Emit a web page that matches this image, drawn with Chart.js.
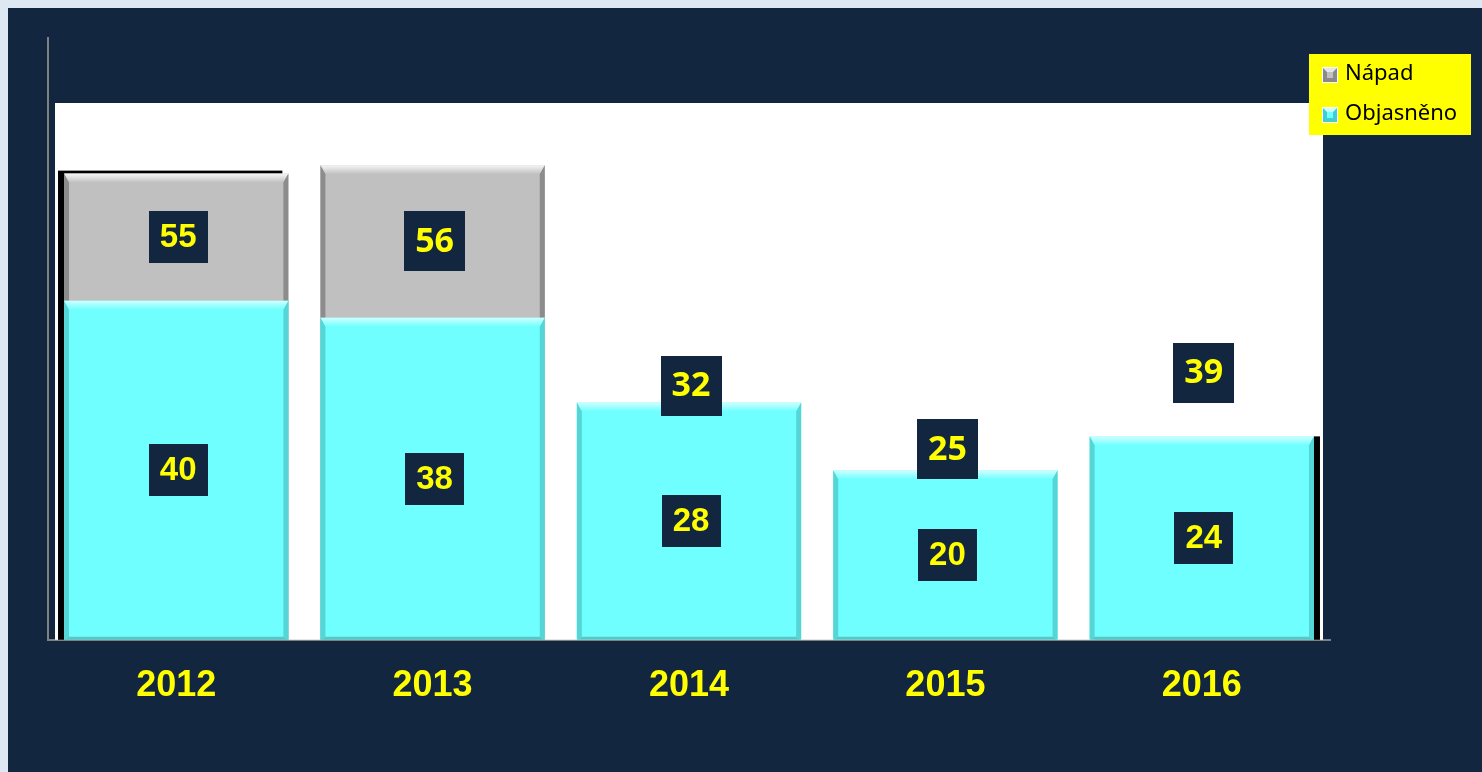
<!DOCTYPE html>
<html>
<head>
<meta charset="utf-8">
<script src="https://cdn.jsdelivr.net/npm/chart.js@4.4.1/dist/chart.umd.min.js"></script>
<style>
  html, body { margin: 0; padding: 0; }
  body { width: 1482px; height: 772px; overflow: hidden; background: #dde8f2; }
  #frame { position: absolute; left: 8px; top: 8px; width: 1474px; height: 764px; background: #12263f; }
  canvas { display: block; }
</style>
</head>
<body>
<div id="frame"><canvas id="chart" width="1474" height="764"></canvas></div>
<script>
const years = ["2012", "2013", "2014", "2015", "2016"]
const napad = [55, 56, 32, 25, 39]
const objasneno = [40, 38, 28, 20, 24]
const seriesNames = ["Nápad", "Objasněno"]

const navy = "#12263f"
const cyan = "#6fffff"
const grey = "#c0c0c0"
// Nápad bars after 2013 are not visible in the original (white)
const napadColors = [grey, grey, "#ffffff", "#ffffff", "#ffffff"]

const arialBold = "bold 33px 'Liberation Sans', Arial, sans-serif"
const notoBold = "bold 34px 'Noto Sans', 'Open Sans', sans-serif"

function poly(ctx, pts, fill) {
  ctx.beginPath()
  ctx.moveTo(pts[0], pts[1])
  for (let k = 2; k < pts.length; k += 2) ctx.lineTo(pts[k], pts[k + 1])
  ctx.closePath()
  ctx.fillStyle = fill
  ctx.fill()
}

// white plot background, black "shadow" strips on outer bars
const backdropPlugin = {
  id: "backdrop",
  beforeDatasetsDraw(chart) {
    const { ctx, chartArea } = chart
    ctx.save()
    ctx.fillStyle = "#ffffff"
    ctx.fillRect(chartArea.left + 7, chartArea.top + 65, chartArea.right - chartArea.left - 14, chartArea.bottom - chartArea.top - 65)
    const first = chart.getDatasetMeta(0).data[0].getProps(["x", "y", "base", "width"], true)
    ctx.fillStyle = "#000000"
    ctx.fillRect(first.x - first.width / 2 - 6, first.y - 3, first.width, first.base - first.y + 3)
    const obj = chart.getDatasetMeta(1).data
    const last = obj[obj.length - 1].getProps(["x", "y", "base", "width"], true)
    ctx.fillRect(last.x - last.width / 2 + 6, last.y, last.width, last.base - last.y)
    ctx.restore()
  }
}

// bevel edges like the Excel 3D bar effect
const bevelPlugin = {
  id: "bevel",
  afterDatasetDraw(chart, args) {
    const ctx = chart.ctx
    const ds = chart.data.datasets[args.index]
    ctx.save()
    args.meta.data.forEach((bar, i) => {
      const col = Array.isArray(ds.backgroundColor) ? ds.backgroundColor[i] : ds.backgroundColor
      if (col === "#ffffff") return
      const { x, y, base, width } = bar.getProps(["x", "y", "base", "width"], true)
      const l = x - width / 2, r = x + width / 2, t = y, b = base
      const s = 5, tb = 9
      const isCyan = col === cyan
      const light = isCyan ? "#d2ffff" : "#f6f6f6"
      const side = isCyan ? "#55d5d5" : "#8c8c8c"
      const bottom = isCyan ? "#5cc4c4" : "#9a9a9a"
      const g = ctx.createLinearGradient(0, t, 0, t + tb)
      g.addColorStop(0, light)
      g.addColorStop(1, col)
      poly(ctx, [l, t, r, t, r - s, t + tb, l + s, t + tb], g)
      poly(ctx, [l, t, l + s, t + tb, l + s, b - 3, l, b], side)
      poly(ctx, [r, t, r - s, t + tb, r - s, b - 3, r, b], side)
      poly(ctx, [l, b, l + s, b - 3, r - s, b - 3, r, b], bottom)
    })
    ctx.restore()
  }
}

function labelBox(ctx, text, cx, cy, font, h) {
  ctx.font = font
  const w = ctx.measureText(text).width + 22
  ctx.fillStyle = navy
  ctx.fillRect(Math.round(cx - w / 2), Math.round(cy - h / 2), Math.round(w), h)
  ctx.fillStyle = "#ffff00"
  ctx.textAlign = "center"
  ctx.textBaseline = "middle"
  ctx.fillText(text, cx, cy + 1)
}

const labelPlugin = {
  id: "boxLabels",
  afterDatasetsDraw(chart) {
    const ctx = chart.ctx
    const nap = chart.getDatasetMeta(0).data
    const obj = chart.getDatasetMeta(1).data
    ctx.save()
    years.forEach((yr, i) => {
      const o = obj[i].getProps(["x", "y", "base"], true)
      const n = nap[i].getProps(["x", "y"], true)
      labelBox(ctx, String(objasneno[i]), o.x + 2, (o.y + o.base) / 2, arialBold, 52)
      if (i === 0) labelBox(ctx, String(napad[i]), n.x + 2, (n.y + o.y) / 2, arialBold, 52)
      else labelBox(ctx, String(napad[i]), n.x + 2, (n.y + o.y) / 2, notoBold, 60)
    })
    ctx.restore()
  }
}

const legendPlugin = {
  id: "boxLegend",
  afterDraw(chart) {
    const ctx = chart.ctx
    const tops = ["#e6e6e6", "#c8ffff"]
    const shades = ["#8a8a8a", "#3fcfcf"]
    const cores = [grey, cyan]
    const x0 = 1301, y0 = 46
    ctx.save()
    ctx.fillStyle = "#ffff00"
    ctx.fillRect(x0, y0, 162, 81)
    seriesNames.forEach((name, k) => {
      const my = y0 + 13 + k * 40
      ctx.fillStyle = "#ffffff"
      ctx.fillRect(x0 + 13, my, 16, 16)
      ctx.fillStyle = shades[k]
      ctx.fillRect(x0 + 14, my + 1, 14, 14)
      poly(ctx, [x0 + 14, my + 1, x0 + 28, my + 1, x0 + 24, my + 5, x0 + 18, my + 5], tops[k])
      ctx.fillStyle = cores[k]
      ctx.fillRect(x0 + 18, my + 5, 6, 6)
      ctx.fillStyle = "#000000"
      ctx.font = "22px 'Noto Sans', 'Open Sans', sans-serif"
      ctx.textAlign = "left"
      ctx.textBaseline = "middle"
      ctx.fillText(name, x0 + 36, my + 7)
    })
    ctx.restore()
  }
}

const chart = new Chart(document.getElementById("chart"), {
  type: "bar",
  data: {
    labels: years,
    datasets: [
      {
        label: seriesNames[0],
        data: napad,
        backgroundColor: napadColors,
        borderWidth: 0,
        order: 1,
      },
      {
        label: seriesNames[1],
        data: objasneno,
        backgroundColor: cyan,
        borderWidth: 0,
        order: 0,
      },
    ],
  },
  options: {
    responsive: false,
    animation: false,
    barPercentage: 0.875,
    categoryPercentage: 1,
    layout: {
      padding: { left: 40, top: 30, right: 152, bottom: 39 },
    },
    scales: {
      x: {
        stacked: true,
        grid: { display: false, drawTicks: false },
        border: { display: true, color: "#808080", width: 2 },
        ticks: {
          color: "#ffff00",
          padding: 25,
          font: { family: "'Liberation Sans', Arial, sans-serif", size: 36, weight: "bold" },
        },
      },
      y: {
        stacked: false,
        min: 0,
        max: 71,
        grid: { display: false, drawTicks: false },
        border: { display: true, color: "#808080", width: 2 },
        ticks: { display: false },
      },
    },
    plugins: {
      legend: { display: false },
      tooltip: { enabled: false },
    },
  },
  plugins: [backdropPlugin, bevelPlugin, labelPlugin, legendPlugin],
})
</script>
</body>
</html>
